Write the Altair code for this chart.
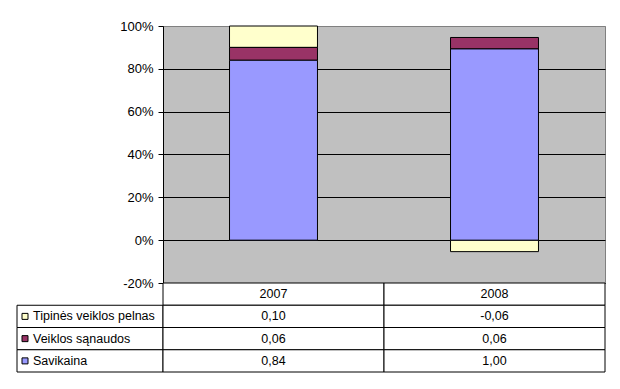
import altair as alt
import pandas as pd

years = ["2007", "2008"]
series = ["Tipinės veiklos pelnas", "Veiklos sąnaudos", "Savikaina"]
tipines = [0.10, -0.06]
veiklos = [0.06, 0.06]
savikaina = [0.84, 1.00]
colors = ["#FFFFCC", "#993366", "#9999FF"]
stack_order = [2, 1, 0]
y_ticks = [-0.2, 0, 0.2, 0.4, 0.6, 0.8, 1.0]

FONT = "Liberation Sans"
FS = 13
FS_TABLE = 12.5
HEADER = " "
row_domain = [HEADER] + series

PLOT_W = 442
PLOT_H = 257
LABEL_W = 146
TABLE_H = 89

series_values = [tipines, veiklos, savikaina]
rows = []
for s, vals, o in zip(series, series_values, stack_order):
    for yr, v in zip(years, vals):
        rows.append({"year": yr, "series": s, "value": v, "order": o})
df = pd.DataFrame(rows)

# ---- bar chart (Excel 100% stacked: share of sum of absolute values) ----
bars = (
    alt.Chart(df)
    .transform_calculate(absval="abs(datum.value)")
    .transform_joinaggregate(total="sum(absval)", groupby=["year"])
    .transform_calculate(pct="datum.value / datum.total")
    .mark_bar(stroke="black", strokeWidth=1)
    .encode(
        x=alt.X("year:N", axis=None,
                scale=alt.Scale(domain=years, paddingInner=0.602, paddingOuter=0.301)),
        y=alt.Y("pct:Q", stack="zero",
                scale=alt.Scale(domain=[-0.2, 1.0], nice=False, zero=False),
                axis=alt.Axis(values=y_ticks, title=None,
                              labelExpr="(datum.value < -0.0001 ? '-' : '') + format(abs(datum.value), '.0%')",
                              labelFont=FONT, labelFontSize=FS, labelColor="black",
                              tickSize=5, tickColor="black", labelPadding=5,
                              domainColor="black", domainWidth=1,
                              grid=True, gridWidth=1,
                              gridColor=alt.condition("datum.value > 0.99", alt.value("#808080"), alt.value("black")))),
        color=alt.Color("series:N", scale=alt.Scale(domain=series, range=colors), legend=None),
        order=alt.Order("order:Q"),
    )
    .properties(width=PLOT_W, height=PLOT_H,
                view=alt.ViewBackground(fill="#C0C0C0", stroke="#808080"))
)

blank = (
    alt.Chart(pd.DataFrame({"a": [0]}))
    .mark_text()
    .encode(text=alt.value(""))
    .properties(width=LABEL_W, height=PLOT_H, view=alt.ViewBackground(stroke="transparent"))
)

# ---- data table: values ----
cells = [{"row": HEADER, "year": yr} for yr in years]
for s, vals in zip(series, series_values):
    for yr, v in zip(years, vals):
        cells.append({"row": s, "year": yr, "value": v})
cells_df = pd.DataFrame(cells)

tbase = alt.Chart(cells_df).transform_calculate(
    label="isValid(datum.value) ? (datum.value < 0 ? '-' : '') + replace(format(abs(datum.value), '.2f'), '.', ',') : datum.year"
).encode(
    x=alt.X("year:N", axis=None, scale=alt.Scale(domain=years, paddingInner=0, paddingOuter=0)),
    y=alt.Y("row:N", axis=None, scale=alt.Scale(domain=row_domain, paddingInner=0, paddingOuter=0)),
)
trects = tbase.mark_rect(fill="white", stroke="black", strokeWidth=1)
ttext = tbase.mark_text(font=FONT, fontSize=FS_TABLE, color="black").encode(text="label:N")
values_panel = alt.layer(trects, ttext).properties(
    width=PLOT_W, height=TABLE_H, view=alt.ViewBackground(stroke="transparent"))

# ---- data table: row labels with legend keys ----
labels_df = pd.DataFrame({"row": series})
lbase = alt.Chart(labels_df).encode(
    y=alt.Y("row:N", axis=None, scale=alt.Scale(domain=row_domain, paddingInner=0, paddingOuter=0)),
)
lrect = lbase.mark_rect(fill="white", stroke="black", strokeWidth=1).encode(
    x=alt.value(0), x2=alt.value("width"))
lkey = lbase.mark_point(shape="square", filled=True, size=36, stroke="black",
                        strokeWidth=1, opacity=1).encode(
    x=alt.value(8),
    color=alt.Color("row:N", scale=alt.Scale(domain=series, range=colors), legend=None))
ltext = lbase.mark_text(align="left", font=FONT, fontSize=FS_TABLE, color="black").encode(
    x=alt.value(16), text="row:N")
labels_panel = alt.layer(lrect, lkey, ltext).properties(
    width=LABEL_W, height=TABLE_H, view=alt.ViewBackground(stroke="transparent"))

chart = alt.concat(
    blank, bars, labels_panel, values_panel,
    columns=2, spacing=0, bounds="flush", align="each",
).properties(
    padding={"left": 8, "top": 11, "right": 5, "bottom": 5}
).configure(font=FONT).resolve_scale(color="independent")

chart.save("out.html", embed_options={"renderer": "svg", "actions": False})
